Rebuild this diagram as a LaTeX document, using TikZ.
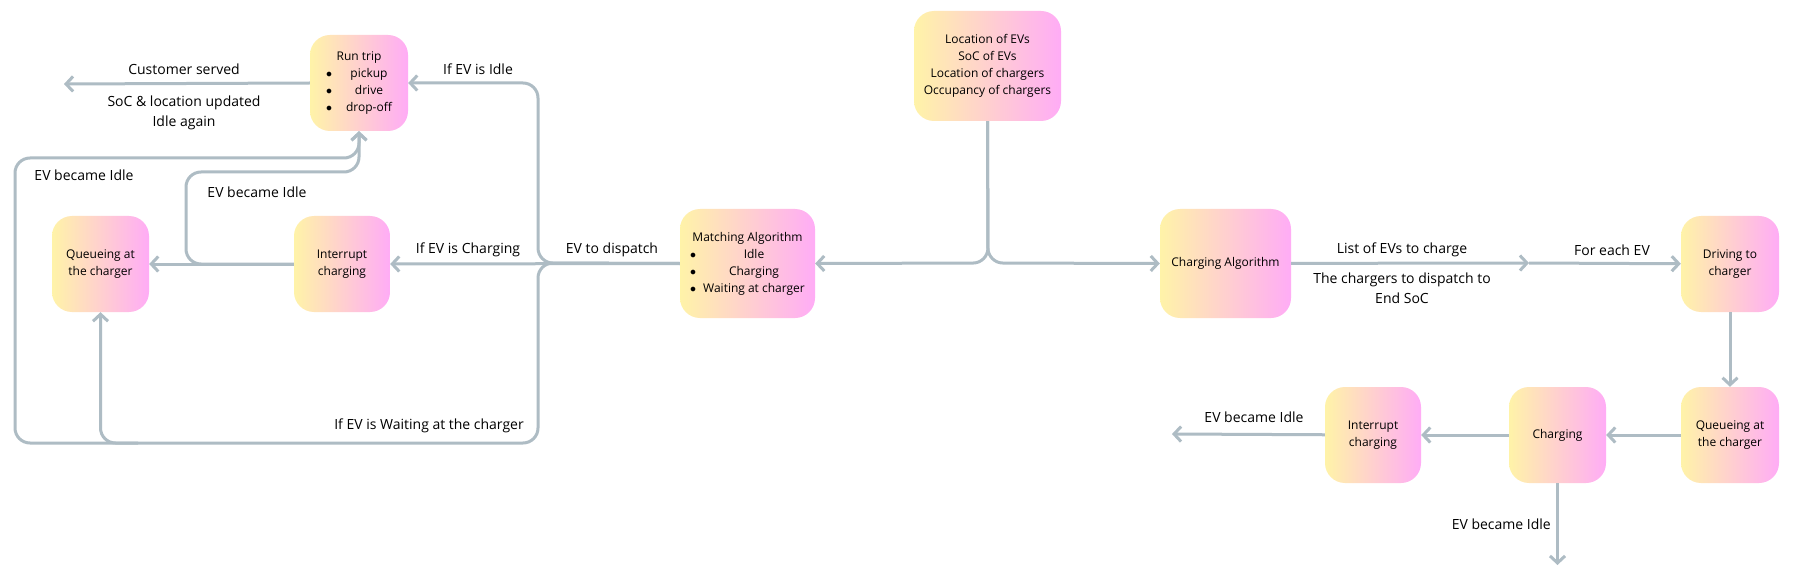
\documentclass[tikz,border=0pt]{standalone}
\usepackage{fontspec}
\setmainfont{Open Sans}
\usetikzlibrary{arrows.meta,positioning}
\definecolor{yc}{RGB}{255,243,168}
\definecolor{pc}{RGB}{255,172,246}
\definecolor{gc}{RGB}{174,188,196}
\newcommand{\bul}{$\bullet$}
\tikzset{box/.style={rounded corners=20pt,left color=yc,right color=pc,align=center,inner sep=0pt,
   minimum width=97pt,minimum height=96pt,font=\fontsize{12}{17}\selectfont},
 wire/.style={draw=gc,line width=3pt,rounded corners=15pt},
 arr/.style={wire,-{Straight Barb[length=7pt,width=15pt]}},
 lab/.style={font=\fontsize{14}{20}\selectfont,align=center,inner sep=0pt}}

\begin{document}
\begin{tikzpicture}[x=1pt,y=-1pt]
\fill[white] (0,0) rectangle (1796,580);
\useasboundingbox (0,0) rectangle (1796,580);
% left half: dispatch side
\node[box,minimum width=98pt] (run) at (359,83) {\begin{tabular}{@{}l@{\hspace{14pt}}c@{}}\multicolumn{2}{c}{Run trip}\\ \bul & pickup\\ \bul & drive\\ \bul & drop-off\end{tabular}};
\node[box] (ql) at (100.5,264) {Queueing at\\the charger};
\node[box,minimum width=96pt] (il) at (342,264) {Interrupt\\charging};
\node[box,minimum width=135pt,minimum height=109pt] (m) at (747.5,263.5) {\begin{tabular}{@{}l@{\hspace{7pt}}c@{}}\multicolumn{2}{@{}c@{}}{Matching Algorithm}\\ \bul & Idle\\ \bul & Charging\\ \bul & Waiting at charger\end{tabular}};
\node[box,minimum width=147pt,minimum height=110pt] (info) at (987.5,66) {Location of EVs\\SoC of EVs\\Location of chargers\\Occupancy of chargers};
% right half: charging side
\node[box,minimum width=131pt,minimum height=109pt] (ca) at (1225.5,263.5) {Charging Algorithm};
\node[box,minimum width=98pt] (dr) at (1730,264) {Driving to\\charger};
\node[box,minimum width=98pt] (qr) at (1730,435) {Queueing at\\the charger};
\node[box] (ch) at (1557.5,435) {Charging};
\node[box,minimum width=96pt] (ir) at (1373,435) {Interrupt\\charging};

\coordinate (j) at (538,263);
\coordinate (jb) at (538,443);
\coordinate (srv) at (64,84);
\coordinate (ql0) at (138,443);
\coordinate (s) at (988,263);
\coordinate (mid) at (1529,263);
\coordinate (out1) at (1172,434);
\coordinate (out2) at (1557.5,565);

\draw[arr] (m.west) -- (j) |- (run.east);
\draw[arr] (m.west) -- (il.east);
\draw[arr] (m.west) -- (j) -- (jb) -| (ql.south);
\draw[arr] (il.west) -- (186,264) -- (186,172) -| (run.south);
\draw[arr] (ql0) -- (15,443) -- (15,158) -| (run.south);
\draw[arr] (run.west) -- (srv);
\draw[arr] (info.south) -- (s) -- (m.east);
\draw[arr] (info.south) -- (s) -- (ca.west);
\foreach \u/\v in {il/ql,ca/mid,mid/dr,dr/qr,qr/ch,ch/ir,ir/out1}{\draw[arr] (\u)--(\v);}
\draw[arr] (ch.south) -- (out2);

\node[lab] (cs) at (184,69) {Customer served};
\node[lab] (su) at (184,113) {SoC \& location updated\\Idle again};
\node[lab] (ei1) at (84,175) {EV became Idle};
\node[lab] (ei2) at (257,192) {EV became Idle};
\node[lab] (ii) at (478,69) {If EV is Idle};
\node[lab] (ic) at (468,250) {If EV is Charging};
\node[lab,anchor=east] (iw) at (524,426) {If EV is Waiting at the charger};
\node[lab] (ed) at (612,250) {EV to dispatch};
\node[lab] (lc) at (1402,250) {List of EVs to charge};
\node[lab] (cd) at (1402,288) {The chargers to dispatch to\\End SoC};
\node[lab] (fe) at (1612,250) {For each EV};
\node[lab] (ei3) at (1254,417) {EV became Idle};
\node[lab,anchor=east] (ei4) at (1551,524) {EV became Idle};
\end{tikzpicture}
\end{document}
